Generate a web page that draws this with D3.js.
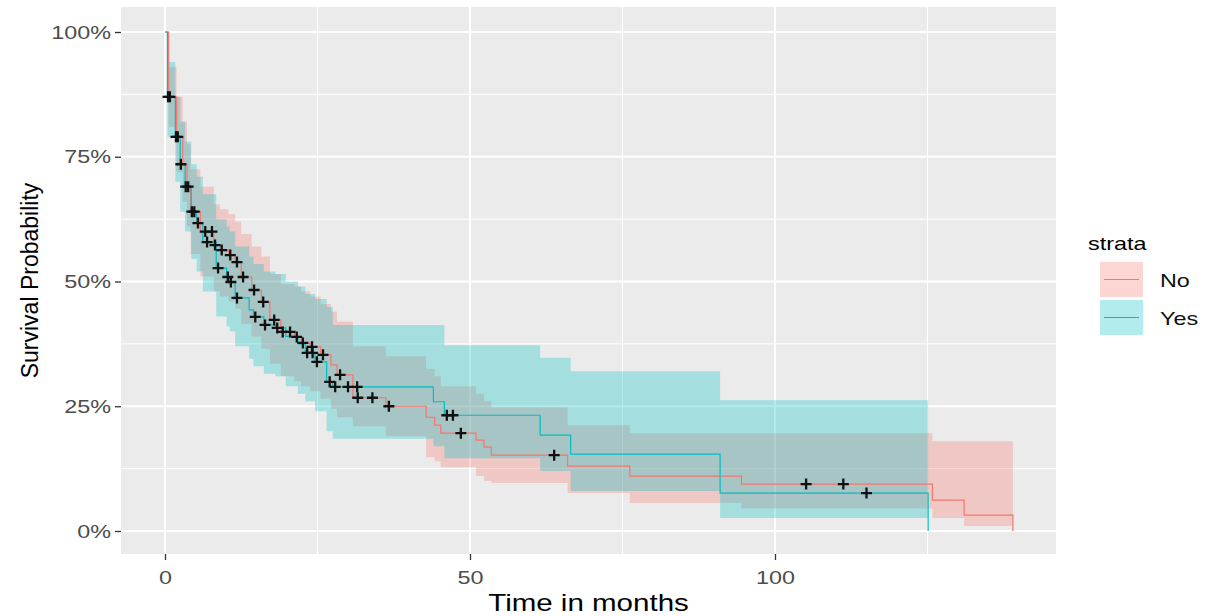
<!DOCTYPE html>
<html>
<head>
<meta charset="utf-8">
<script src="https://cdn.jsdelivr.net/npm/d3@7"></script>
<style>
  body { margin: 0; background: #fff; }
  svg { display: block; font-family: "Liberation Sans", Arial, sans-serif; }
</style>
</head>
<body>
<div id="chart"></div>
<script>
// Kaplan-Meier steps (time in months, survival, CI)
const noTime  = [0, 0.6, 1.9, 2.9, 3.6, 4.2, 5.8, 8.0, 9.0, 10.4, 11.5, 12.5, 14.2, 15.8, 17.2, 19.0, 21.2, 22.3, 23.8, 25.5, 27.2, 28.2, 30.8, 36.2, 42.8, 44.2, 45.2, 51.0, 52.3, 53.5, 66.0, 76.2, 94.5, 125.8, 131.0];
const noSurv  = [1, .87, .79, .735, .69, .64, .60, .573, .563, .553, .539, .509, .483, .459, .423, .399, .389, .377, .369, .353, .333, .313, .267, .25, .228, .212, .196, .182, .168, .152, .13, .11, .094, .062, .032];
const noUpper = [1, .93, .87, .82, .775, .725, .69, .655, .645, .635, .62, .595, .57, .55, .515, .495, .49, .48, .47, .455, .44, .42, .37, .35, .325, .31, .29, .275, .26, .248, .212, .196, .196, .18, .18];
const noLower = [1, .81, .72, .66, .61, .555, .51, .48, .47, .46, .445, .415, .39, .365, .335, .31, .30, .29, .28, .265, .245, .228, .21, .19, .148, .14, .128, .11, .10, .096, .076, .056, .045, .026, .01];
const noEnd = 139;
const noCensor = [0.8, 2.1, 3.8, 4.4, 6.6, 7.7, 8.2, 9.3, 10.7, 11.8, 12.8, 14.6, 16.1, 17.9, 19.3, 20.5, 21.6, 22.6, 24.1, 25.9, 28.7, 31.6, 34.0, 36.7, 48.5, 63.8, 105.1, 111.2];

const yesTime  = [0, 0.4, 1.7, 2.5, 3.3, 4.3, 5.2, 6.2, 8.4, 10.1, 10.6, 11.5, 13.8, 14.5, 16.2, 18.1, 19.8, 21.8, 23.0, 24.6, 26.5, 27.5, 44.0, 45.8, 61.5, 66.5, 91.0];
const yesSurv  = [1, .87, .79, .735, .69, .64, .617, .579, .527, .509, .499, .467, .443, .429, .413, .407, .39, .375, .357, .339, .299, .289, .259, .232, .192, .154, .076];
const yesUpper = [1, .94, .87, .82, .78, .735, .71, .675, .625, .61, .60, .57, .55, .535, .52, .515, .50, .49, .475, .465, .449, .413, .413, .372, .347, .32, .262];
const yesLower = [1, .79, .70, .64, .60, .545, .52, .48, .43, .41, .40, .37, .345, .33, .315, .31, .29, .275, .26, .24, .20, .185, .17, .146, .12, .08, .026];
const yesEnd = 125.1;
const yesCensor = [0.5, 1.8, 2.6, 3.4, 4.8, 5.4, 6.9, 8.7, 10.3, 10.8, 11.8, 14.8, 16.4, 18.4, 23.3, 24.2, 24.9, 27.0, 27.9, 30.0, 31.5, 46.2, 47.2, 115.0];

const strata = ['No', 'Yes'];
const colors = ['#F8766D', '#00BFC4'];
const xTicks = [0, 50, 100];
const yTicks = [0, 0.25, 0.5, 0.75, 1];

const width = 1214, height = 616;
const panel = { left: 121, right: 1056, top: 7, bottom: 554 };
const stretch = 1.23;

const x = d3.scaleLinear().domain([0, 100]).range([165, 775]);
const y = d3.scaleLinear().domain([0, 1]).range([531, 32]);

const svg = d3.select('#chart').append('svg')
  .attr('width', width)
  .attr('height', height);

// panel background
svg.append('rect')
  .attr('x', panel.left).attr('y', panel.top)
  .attr('width', panel.right - panel.left)
  .attr('height', panel.bottom - panel.top)
  .attr('fill', '#EBEBEB');

// grid
const grid = svg.append('g');
const xMinor = [25, 75, 125], yMinor = [0.125, 0.375, 0.625, 0.875];
grid.selectAll('.xmin').data(xMinor).join('line')
  .attr('x1', d => x(d)).attr('x2', d => x(d))
  .attr('y1', panel.top).attr('y2', panel.bottom)
  .attr('stroke', '#fff').attr('stroke-width', 1);
grid.selectAll('.ymin').data(yMinor).join('line')
  .attr('y1', d => y(d)).attr('y2', d => y(d))
  .attr('x1', panel.left).attr('x2', panel.right)
  .attr('stroke', '#fff').attr('stroke-width', 1);
grid.selectAll('.xmaj').data(xTicks).join('line')
  .attr('x1', d => x(d)).attr('x2', d => x(d))
  .attr('y1', panel.top).attr('y2', panel.bottom)
  .attr('stroke', '#fff').attr('stroke-width', 2);
grid.selectAll('.ymaj').data(yTicks).join('line')
  .attr('y1', d => y(d)).attr('y2', d => y(d))
  .attr('x1', panel.left).attr('x2', panel.right)
  .attr('stroke', '#fff').attr('stroke-width', 2);

// build step data per stratum
function rows(time, surv, lower, upper, end) {
  const r = time.map((t, i) => ({ t, s: surv[i], lo: lower[i], hi: upper[i] }));
  const last = r[r.length - 1];
  r.push({ t: end, s: last.s, lo: last.lo, hi: last.hi });
  return r;
}
const groups = [
  { name: 'No',  color: colors[0], data: rows(noTime, noSurv, noLower, noUpper, noEnd), censor: noCensor, end: noEnd },
  { name: 'Yes', color: colors[1], data: rows(yesTime, yesSurv, yesLower, yesUpper, yesEnd), censor: yesCensor, end: yesEnd }
];

function survAt(data, t) {
  let s = 1;
  data.forEach(d => { if (d.t <= t) s = d.s; });
  return s;
}

const area = d3.area()
  .curve(d3.curveStepAfter)
  .x(d => x(d.t))
  .y0(d => y(d.lo))
  .y1(d => y(d.hi));

const line = d3.line()
  .curve(d3.curveStepAfter)
  .x(d => x(d.t))
  .y(d => y(d.s));

groups.forEach(g => {
  svg.append('path')
    .datum(g.data)
    .attr('fill', g.color)
    .attr('fill-opacity', 0.3)
    .attr('d', area);
});

groups.forEach(g => {
  const pts = g.data.concat([{ t: g.end, s: 0 }]);
  svg.append('path')
    .datum(pts)
    .attr('fill', 'none')
    .attr('stroke', g.color)
    .attr('stroke-width', 1.2)
    .attr('d', line);
});

// censor marks
groups.forEach(g => {
  const cg = svg.append('g');
  const pts = g.censor.map(t => ({ t, s: survAt(g.data, t) }));
  cg.selectAll('path').data(pts).join('path')
    .attr('d', d => {
      const cx = x(d.t), cy = y(d.s), h = 5.5;
      return `M${cx - h},${cy}H${cx + h}M${cx},${cy - h}V${cy + h}`;
    })
    .attr('stroke', '#111')
    .attr('stroke-width', 2.3);
});

// axes
const xAxis = svg.append('g')
  .attr('transform', `translate(0,${panel.bottom})`)
  .call(d3.axisBottom(x).tickValues(xTicks).tickSize(6).tickPadding(5));
const yAxis = svg.append('g')
  .attr('transform', `translate(${panel.left},0)`)
  .call(d3.axisLeft(y).tickValues(yTicks).tickSize(6).tickPadding(4)
    .tickFormat(d3.format('.0%')));

[xAxis, yAxis].forEach(a => {
  a.select('.domain').remove();
  a.selectAll('.tick line').attr('stroke', '#333').attr('stroke-width', 1.3);
  a.selectAll('.tick text')
    .attr('fill', '#4D4D4D')
    .style('font-size', '19px')
    .style('font-family', '"Liberation Sans", Arial, sans-serif');
});
xAxis.selectAll('.tick text').attr('dy', '1em')
  .attr('transform', `scale(${stretch},1)`);
yAxis.selectAll('.tick text')
  .attr('x', -10 / stretch)
  .attr('transform', `scale(${stretch},1)`);

// axis titles
svg.append('text')
  .attr('transform', `translate(${(panel.left + panel.right) / 2},611) scale(${stretch},1)`)
  .attr('text-anchor', 'middle')
  .style('font-size', '24px')
  .text('Time in months');

svg.append('text')
  .attr('transform', `translate(38,${(panel.top + panel.bottom) / 2}) rotate(-90)`)
  .attr('text-anchor', 'middle')
  .style('font-size', '23px')
  .text('Survival Probability');

// legend
const leg = svg.append('g').attr('transform', 'translate(1088,0)');
leg.append('text')
  .attr('transform', `translate(0,250) scale(${stretch},1)`)
  .style('font-size', '19px')
  .text('strata');

const keys = leg.selectAll('.key').data(strata).join('g')
  .attr('transform', (d, i) => `translate(12,${262 + i * 38})`);
keys.append('rect')
  .attr('width', 43).attr('height', 35)
  .attr('fill', (d, i) => colors[i])
  .attr('fill-opacity', 0.3);
keys.append('line')
  .attr('x1', 4).attr('x2', 39)
  .attr('y1', 17.5).attr('y2', 17.5)
  .attr('stroke', (d, i) => colors[i])
  .attr('stroke-width', 1.2);
keys.append('text')
  .attr('transform', `translate(60,25) scale(${stretch},1)`)
  .style('font-size', '19px')
  .attr('fill', '#111')
  .text(d => d);
</script>
</body>
</html>
